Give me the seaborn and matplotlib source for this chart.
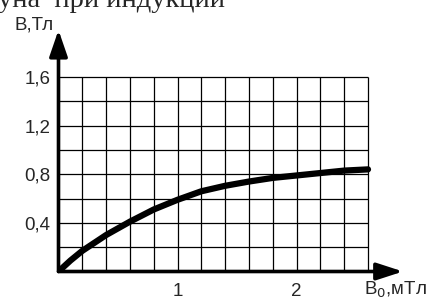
import numpy as np
import pandas as pd
import matplotlib
matplotlib.use("Agg")
import matplotlib.pyplot as plt
import seaborn as sns

# B0 (мТл) and B (Тл)
b0 = [0, 0.1, 0.2, 0.4, 0.6, 0.8, 1.0, 1.2, 1.4, 1.6, 1.8, 2.0, 2.2, 2.4, 2.6]
b = [0, 0.09, 0.17, 0.30, 0.41, 0.51, 0.59, 0.66, 0.705, 0.74, 0.77, 0.79, 0.81, 0.83, 0.84]
ytick_vals = [0.4, 0.8, 1.2, 1.6]
ytick_labels = ["0,4", "0,8", "1,2", "1,6"]
xtick_vals = [1, 2]
xtick_labels = ["1", "2"]

sns.set_style("white")
plt.rcParams["font.family"] = ["Liberation Sans", "DejaVu Sans"]

W, H = 431, 299
fig = plt.figure(figsize=(W / 100, H / 100), dpi=100)
# axes box in pixels: x 58.5..403, y 30..271.5
x0, x1, y0, y1 = 58.5, 403, 30, 271.5
ax = fig.add_axes([x0 / W, 1 - y1 / H, (x1 - x0) / W, (y1 - y0) / H])
px_per_x = (368 - 58.5) / 2.6
px_per_y = (271.5 - 77) / 1.6
ax.set_xlim(0, (x1 - x0) / px_per_x)
ax.set_ylim(0, (y1 - y0) / px_per_y)
for s in ax.spines.values():
    s.set_visible(False)

# grid only inside the 2.6 x 1.6 box
gx = np.arange(0, 2.6001, 0.2)
gy = np.arange(0, 1.6001, 0.2)
ax.vlines(gx, 0, 1.6, color="black", lw=0.9, zorder=1)
ax.hlines(gy, 0, 2.6, color="black", lw=0.9, zorder=1)

df = pd.DataFrame({"b0": b0, "b": b})
sns.lineplot(data=df, x="b0", y="b", color="black", lw=4.5, ax=ax, zorder=3,
             solid_capstyle="round")

# axes with arrows
xmax, ymax = ax.get_xlim()[1], ax.get_ylim()[1]
arr = dict(arrowstyle="-|>,head_length=16,head_width=5.2", lw=2.6, color="black",
           mutation_scale=1, shrinkA=0, shrinkB=0)
ax.annotate("", xy=(xmax, 0), xytext=(0, 0), arrowprops=arr, annotation_clip=False, zorder=4)
arr2 = dict(arr, arrowstyle="-|>,head_length=16,head_width=5.5")
ax.annotate("", xy=(0, ymax), xytext=(0, 0), arrowprops=arr2, annotation_clip=False, zorder=4)

ax.set_xticks(xtick_vals)
ax.set_xticklabels(xtick_labels, fontsize=13.5)
ax.set_yticks(ytick_vals)
ax.set_yticklabels(ytick_labels, fontsize=13.5)
ax.tick_params(axis="both", length=0)
ax.tick_params(axis="y", pad=6)
ax.tick_params(axis="x", pad=8)
ax.set_xlabel("")
ax.set_ylabel("")

fig.text(364 / W, 1 - 295 / H, r"B$_0$,мТл", fontsize=13.5, ha="left", va="baseline")
fig.text(15 / W, 1 - 29 / H, "B,Тл", fontsize=13.5, ha="left", va="baseline")
fig.text(-2 / W, 1 - 7 / H, "уна  при индукции", fontsize=20.5,
         family=["Liberation Serif", "DejaVu Serif"], ha="left", va="baseline")

fig.savefig("out.png", dpi=100)
